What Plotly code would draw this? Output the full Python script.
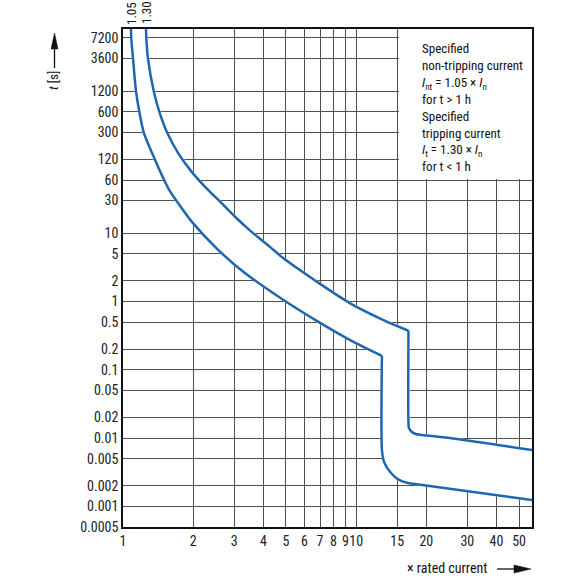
import numpy as np
import plotly.graph_objects as go

# ---- data ----
# lower boundary (1.05 x In) curve: thermal part down to the magnetic corner
min_x = [1.082, 1.085, 1.104, 1.137, 1.175, 1.227, 1.37, 1.49, 1.58, 1.72, 1.98, 2.52, 3.28, 4.88,
         6.78, 9.43, 12.9]
min_t = [10000, 7200, 3600, 1200, 600, 300, 120, 63.5, 42.8, 27.8, 14.5, 6.0, 2.72, 1.05,
         0.52, 0.272, 0.16]
# lower boundary: magnetic drop and tail
min_x2 = [12.9, 12.9, 13.1, 13.5, 14.95, 16.5, 18.2, 56.8]
min_t2 = [0.16, 0.0067, 0.00477, 0.0038, 0.00257, 0.00222, 0.00212, 0.00124]
# upper boundary (1.30 x In) curve: thermal part
max_x = [1.255, 1.259, 1.28, 1.355, 1.431, 1.544, 1.727, 1.971, 2.249, 2.652, 3.025, 3.51, 4.27, 4.88,
         6.78, 9.43, 13.1, 16.77]
max_t = [10000, 7200, 3600, 1200, 600, 300, 147.6, 79, 47.8, 27.3, 17.4, 10.9, 6.3, 4.28,
         1.95, 0.94, 0.535, 0.373]
# upper boundary: magnetic drop and tail
max_x2 = [16.77, 16.77, 16.85, 17.3, 18.0, 19.1, 26.1, 56.8]
max_t2 = [0.373, 0.0164, 0.0140, 0.0124, 0.0115, 0.0111, 0.0099, 0.00668]

x_ticks = [1, 2, 3, 4, 5, 6, 7, 8, 9, 10, 15, 20, 30, 40, 50]
x_labels = ["1", "2", "3", "4", "5", "6", "7", "8", "9", "10", "15", "20", "30", "40", "50"]
y_ticks = [7200, 3600, 1200, 600, 300, 120, 60, 30, 10, 5, 2, 1, 0.5, 0.2, 0.1, 0.05,
           0.02, 0.01, 0.005, 0.002, 0.001, 0.0005]
y_labels = ["7200", "3600", "1200", "600", "300", "120", "60", "30", "10", "5", "2", "1", "0.5",
            "0.2", "0.1", "0.05", "0.02", "0.01", "0.005", "0.002", "0.001", "0.0005"]
curve_labels = ["1.05", "1.30"]
x_max = 56.8
y_min, y_max = 0.0005, 9750

FONT = "Liberation Sans Narrow, Roboto Condensed, Arial Narrow, Liberation Sans, sans-serif"
BLUE = "#1f66b0"
GRID = "#505050"

fig = go.Figure()

# white band between the two curves (covers the grid)
lower_x = min_x + min_x2[1:]
lower_t = min_t + min_t2[1:]
upper_x = max_x + max_x2[1:]
upper_t = max_t + max_t2[1:]
fig.add_trace(go.Scatter(
    x=lower_x + upper_x[::-1], y=lower_t + upper_t[::-1], mode="lines",
    fill="toself", fillcolor="white", line=dict(width=2.5, color="white"),
    hoverinfo="skip", showlegend=False))
for xs, ts in [(min_x, min_t), (min_x2, min_t2), (max_x, max_t), (max_x2, max_t2)]:
    fig.add_trace(go.Scatter(x=xs, y=ts, mode="lines",
                             line=dict(color=BLUE, width=2.5, shape="spline", smoothing=0.8),
                             showlegend=False))

fig.update_xaxes(type="log", range=[0, np.log10(x_max)], tickvals=x_ticks, ticktext=x_labels,
                 tickangle=0,
                 showgrid=True, gridcolor=GRID, gridwidth=1.2, zeroline=False,
                 showline=True, linecolor="#111", linewidth=1.6, mirror=True, ticks="",
                 tickfont=dict(family=FONT, size=14, color="#222"))
fig.update_yaxes(type="log", range=[np.log10(y_min), np.log10(y_max)], tickvals=y_ticks, ticktext=y_labels,
                 showgrid=True, gridcolor=GRID, gridwidth=1.2, zeroline=False,
                 showline=True, linecolor="#111", linewidth=1.6, mirror=True, ticks="",
                 tickfont=dict(family=FONT, size=14, color="#222"))

# white legend box covering grid in top-right corner
fig.add_shape(type="rect", xref="x", yref="y", x0=15.25, x1=x_max, y0=62, y1=y_max,
              fillcolor="white", line=dict(width=0), layer="between")

box_text = ("Specified<br>non-tripping current<br><i>I</i><sub>nt</sub> = 1.05 × <i>I</i><sub>n</sub><br>"
            "for t > 1 h<br>Specified<br>tripping current<br><i>I</i><sub>t</sub> = 1.30 × <i>I</i><sub>n</sub><br>"
            "for t < 1 h")
fig.add_annotation(xref="paper", yref="paper", x=(420 - 123) / 409, y=(527 - 39) / 498,
                   xanchor="left", yanchor="top", align="left", showarrow=False, text=box_text,
                   font=dict(family=FONT, size=13, color="#111"))

# rotated labels at top of curves
for cx, lab in zip([min_x[0], max_x[0]], curve_labels):
    fig.add_annotation(xref="x", yref="paper", x=np.log10(cx), y=1.005, xanchor="center", yanchor="bottom",
                       text=lab, textangle=-90, showarrow=False,
                       font=dict(family=FONT, size=13, color="#111"))

def px(xp):
    return (xp - 123) / 409

def py(yp):
    return (527 - yp) / 498

# y axis title with arrow
fig.add_annotation(xref="paper", yref="paper", x=px(54), y=py(81), text="<i>t</i> [s]", textangle=-90,
                   showarrow=False, xanchor="center", yanchor="middle",
                   font=dict(family=FONT, size=13, color="#111"))
fig.add_shape(type="line", xref="paper", yref="paper", x0=px(54.5), x1=px(54.5), y0=py(68), y1=py(46),
              line=dict(color="#111", width=1.3))
fig.add_shape(type="path", xref="paper", yref="paper",
              path=f"M {px(54.5)} {py(33)} L {px(51)} {py(49)} L {px(58)} {py(49)} Z",
              fillcolor="#111", line=dict(color="#111", width=0.5))

# x axis title with arrow
fig.add_annotation(xref="paper", yref="paper", x=px(490), y=py(568), text="× rated current",
                   showarrow=False, xanchor="right", yanchor="middle",
                   font=dict(family=FONT, size=14, color="#111"))
fig.add_shape(type="line", xref="paper", yref="paper", x0=px(497), x1=px(518), y0=py(569), y1=py(569),
              line=dict(color="#111", width=1.3))
fig.add_shape(type="path", xref="paper", yref="paper",
              path=f"M {px(531)} {py(569)} L {px(514)} {py(565)} L {px(514)} {py(573)} Z",
              fillcolor="#111", line=dict(color="#111", width=0.5))

fig.update_layout(width=580, height=580, margin=dict(l=123, r=48, t=29, b=53),
                  paper_bgcolor="white", plot_bgcolor="white", showlegend=False,
                  font=dict(family=FONT, color="#111"))

fig.write_html("out.html", config={"displayModeBar": False},
               post_script="document.body.style.margin='0';")
